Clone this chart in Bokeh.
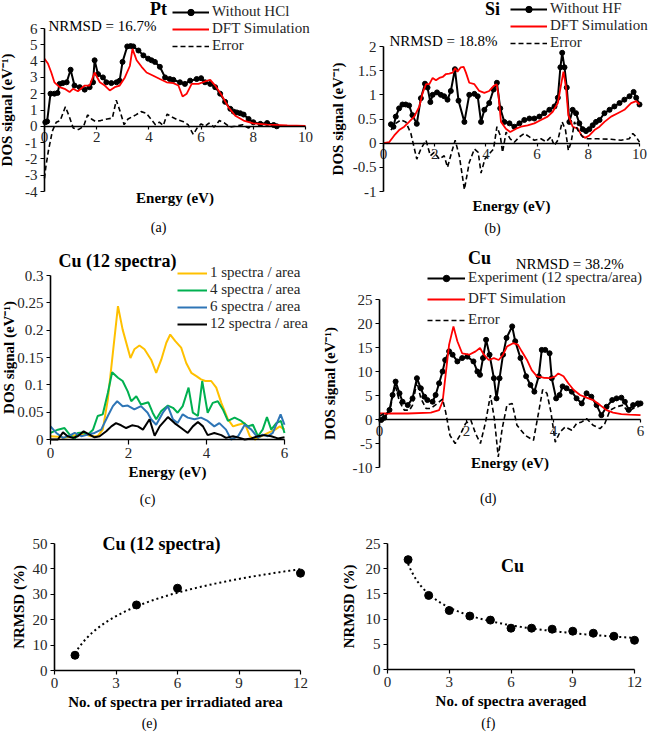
import numpy as np
from bokeh.plotting import figure
from bokeh.models import Range1d, LinearAxis, Label, Legend, LegendItem, FixedTicker
from bokeh.layouts import column, row
from bokeh.embed import file_html
from bokeh.resources import INLINE

FONT = "Liberation Serif"
TICK_COLOR = "#262626"

# ---------------- (a) Pt ----------------
pt_exp_x = [0.03, 0.1, 0.23, 0.38, 0.5, 0.58, 0.7, 0.85, 1.0, 1.15, 1.35, 1.54, 1.73, 1.86, 1.92,
            2.05, 2.24, 2.37, 2.56, 2.76, 2.88, 2.99, 3.17, 3.3, 3.4, 3.6, 3.79, 3.97, 4.1, 4.23,
            4.42, 4.62, 4.8, 4.94, 5.19, 5.38, 5.58, 5.83, 6.0, 6.15, 6.35, 6.54, 6.73, 6.92, 7.12,
            7.25, 7.37, 7.5, 7.63, 7.82, 8.0, 8.27, 8.53, 8.78, 8.9]
pt_exp_y = [0.25, 0.3, 2.0, 2.0, 2.05, 2.6, 2.65, 2.7, 3.47, 2.5, 2.4, 2.25, 2.4, 2.7, 4.05,
            3.2, 3.0, 2.7, 2.65, 2.7, 2.8, 3.95, 4.9, 4.92, 4.9, 4.65, 4.35, 4.15, 4.05, 3.95,
            3.65, 3.0, 2.9, 2.85, 2.7, 2.6, 2.8, 2.9, 2.95, 2.7, 2.6, 2.4, 2.0, 1.5, 1.07,
            0.9, 0.85, 0.8, 0.72, 0.45, 0.25, 0.15, 0.2, 0.08, 0.0]
pt_dft_x = [0, 0.13, 0.26, 0.38, 0.58, 0.77, 0.96, 1.09, 1.28, 1.54, 1.73, 1.92, 2.12, 2.31, 2.5,
            2.69, 2.88, 3.08, 3.27, 3.37, 3.53, 3.72, 3.91, 4.17, 4.42, 4.68, 4.94, 5.13, 5.29,
            5.45, 5.64, 5.9, 6.15, 6.35, 6.54, 6.79, 7.05, 7.31, 7.63, 8.0, 8.53, 9.3, 10]
pt_dft_y = [4.15, 3.85, 3.3, 2.7, 2.4, 2.3, 2.1, 2.3, 2.15, 2.5, 2.5, 3.3, 2.7, 2.5, 2.2,
            2.4, 2.5, 3.0, 3.7, 4.75, 4.05, 3.65, 3.3, 3.1, 2.9, 2.7, 2.65, 2.5, 1.83,
            2.0, 2.6, 2.6, 2.75, 2.85, 2.5, 1.9, 1.17, 0.65, 0.35, 0.18, 0.1, 0.05, 0.02]
pt_err_x = [0, 0.05, 0.15, 0.3, 0.45, 0.6, 0.8, 0.95, 1.1, 1.3, 1.5, 1.65, 1.8, 1.95, 2.15,
            2.4, 2.6, 2.75, 2.9, 3.05, 3.2, 3.5, 3.7, 3.9, 4.1, 4.25, 4.4, 4.55, 4.7, 4.9,
            5.1, 5.3, 5.5, 5.7, 5.85, 6.0, 6.15, 6.3, 6.5, 6.7, 6.9, 7.1, 7.3, 7.6, 7.8, 8.0]
pt_err_y = [-3.2, -2.5, -1.5, -0.3, 0.25, 0.35, 1.2, 0.6, -0.1, -0.2, 0.0, 0.7, 0.45, 0.3, 0.35,
            0.45, 0.5, 1.6, 0.9, 0.1, 0.45, 0.7, 0.9, 0.8, 0.4, 0.1, 0.25, 0.05, 0.75, 0.55,
            0.4, 0.3, 0.1, -0.5, -0.1, 0.15, 0.0, 0.2, -0.05, 0.35, 0.2, -0.05, 0.0, 0.1, -0.1, 0.0]
pt_xticks = [0, 2, 4, 6, 8, 10]
pt_xlabels = ["0", "2", "4", "6", "8", "10"]
pt_yticks = [-4, -3, -2, -1, 0, 1, 2, 3, 4, 5, 6]
pt_ylabels = ["-4", "-3", "-2", "-1", "0", "1", "2", "3", "4", "5", "6"]

# ---------------- (b) Si ----------------
si_exp_x = [0.29, 0.39, 0.48, 0.61, 0.74, 0.87, 1.0, 1.13, 1.3, 1.46, 1.62, 1.72, 1.83, 1.92, 2.09,
            2.24, 2.37, 2.5, 2.63, 2.79, 2.93, 3.16, 3.35, 3.55, 3.68, 3.81, 3.94, 4.13, 4.3, 4.43,
            4.56, 4.72, 4.92, 5.11, 5.31, 5.5, 5.7, 5.89, 6.09, 6.28, 6.48, 6.68, 6.81, 6.91, 6.98,
            7.07, 7.16, 7.26, 7.39, 7.52, 7.65, 7.78, 7.91, 8.04, 8.17, 8.3, 8.44, 8.63, 8.83, 9.02,
            9.22, 9.41, 9.61, 9.77, 9.87, 10.0]
si_exp_y = [0.39, 0.34, 0.55, 0.72, 0.8, 0.8, 0.78, 0.58, 0.4, 0.93, 1.23, 1.15, 0.85, 1.0, 1.05,
            1.0, 0.97, 0.9, 1.08, 1.53, 0.88, 0.44, 1.0, 1.02, 0.97, 0.44, 0.69, 0.83, 1.11, 1.25,
            0.72, 0.44, 0.41, 0.34, 0.41, 0.48, 0.51, 0.51, 0.55, 0.62, 0.69, 0.76, 0.94, 1.57, 1.87,
            1.57, 1.15, 0.44, 0.69, 0.62, 0.41, 0.29, 0.25, 0.29, 0.37, 0.44, 0.48, 0.62, 0.69, 0.76,
            0.83, 0.9, 0.97, 1.06, 0.94, 0.8]
si_dft_x = [0, 0.22, 0.42, 0.61, 0.81, 1.0, 1.2, 1.4, 1.53, 1.66, 1.79, 1.92, 2.05, 2.18, 2.31,
            2.44, 2.57, 2.7, 2.8, 2.89, 3.02, 3.13, 3.22, 3.35, 3.55, 3.74, 3.94, 4.13, 4.3, 4.42,
            4.49, 4.59, 4.78, 4.95, 5.18, 5.37, 5.63, 5.89, 6.15, 6.41, 6.61, 6.81, 6.94, 7.03, 7.13,
            7.22, 7.39, 7.59, 7.74, 7.87, 8.04, 8.24, 8.44, 8.63, 8.89, 9.15, 9.41, 9.67, 9.87, 10.0]
si_dft_y = [0, 0.02, 0.16, 0.27, 0.34, 0.44, 0.55, 0.76, 1.04, 1.22, 1.22, 1.35, 1.3, 1.35, 1.37,
            1.43, 1.44, 1.46, 1.55, 1.48, 1.57, 1.58, 1.46, 1.25, 1.22, 1.08, 1.04, 1.08, 1.18, 1.22,
            1.0, 0.44, 0.3, 0.23, 0.3, 0.34, 0.37, 0.41, 0.48, 0.55, 0.65, 0.83, 1.22, 1.48, 1.15,
            0.58, 0.34, 0.3, 0.16, 0.11, 0.16, 0.27, 0.34, 0.44, 0.55, 0.62, 0.69, 0.83, 0.87, 0.8]
si_err_x = [0.29, 0.48, 0.68, 0.87, 1.07, 1.3, 1.46, 1.66, 1.83, 1.98, 2.18, 2.37, 2.5, 2.66, 2.8,
            2.96, 3.16, 3.35, 3.55, 3.7, 3.81, 3.96, 4.13, 4.3, 4.43, 4.56, 4.65, 4.79, 4.95, 5.11,
            5.31, 5.5, 5.7, 5.89, 6.15, 6.35, 6.54, 6.67, 6.81, 6.98, 7.11, 7.22, 7.33, 7.46, 7.59,
            7.78, 7.98, 8.37, 8.89, 9.28, 9.48, 9.6, 9.74, 9.87, 10.0]
si_err_y = [0.27, 0.41, 0.48, 0.44, 0.2, -0.33, -0.12, 0.06, -0.26, -0.19, -0.33, -0.26, -0.5, -0.19, 0.06,
            -0.26, -0.96, -0.4, -0.12, -0.19, -0.62, -0.33, -0.22, -0.12, 0.34, 0.16, -0.19, 0.23, 0.09, 0.02,
            0.13, 0.2, 0.13, 0.06, 0.09, 0.03, 0.13, -0.05, 0.06, 0.44, 0.27, -0.15, 0.02, 0.44, 0.27,
            0.13, 0.09, 0.09, 0.08, 0.06, 0.08, 0.09, 0.2, 0.13, 0.02]
si_xticks = [0, 2, 4, 6, 8, 10]
si_xlabels = ["0", "2", "4", "6", "8", "10"]
si_yticks = [-1, -0.5, 0, 0.5, 1, 1.5, 2]
si_ylabels = ["-1", "-0.5", "0", "0.5", "1", "1.5", "2"]

# ---------------- (c) Cu, 12 spectra ----------------
cu1_x = [0, 0.19, 0.36, 0.53, 0.7, 0.87, 1.04, 1.21, 1.34, 1.47, 1.6, 1.73, 1.85, 2.05, 2.15, 2.28,
         2.41, 2.58, 2.71, 2.84, 2.97, 3.07, 3.2, 3.35, 3.48, 3.61, 3.74, 3.86, 3.97, 4.12, 4.25,
         4.38, 4.55, 4.68, 4.81, 4.98, 5.11, 5.24, 5.41, 5.58, 5.76, 5.88, 6.0]
cu1_y = [0.006, 0.005, 0.003, 0.006, 0.009, 0.01, 0.006, 0.006, 0.018, 0.073, 0.159, 0.244, 0.201,
         0.149, 0.165, 0.172, 0.165, 0.146, 0.122, 0.146, 0.177, 0.192, 0.18, 0.168, 0.14, 0.122,
         0.116, 0.11, 0.107, 0.107, 0.095, 0.067, 0.037, 0.024, 0.027, 0.03, 0.006, 0.0, 0.006,
         0.012, 0.018, 0.024, 0.018]
cu4_x = [0, 0.19, 0.36, 0.49, 0.62, 0.7, 0.83, 0.96, 1.09, 1.21, 1.34, 1.47, 1.58, 1.73, 1.85, 1.98,
         2.07, 2.2, 2.32, 2.51, 2.62, 2.71, 2.84, 3.01, 3.14, 3.26, 3.39, 3.54, 3.65, 3.78, 3.89,
         4.03, 4.16, 4.29, 4.42, 4.55, 4.72, 4.89, 5.06, 5.19, 5.32, 5.44, 5.55, 5.66, 5.79, 5.91, 6.0]
cu4_y = [0.012, 0.018, 0.021, 0.009, 0.001, 0.012, 0.013, 0.009, 0.018, 0.043, 0.046, 0.085, 0.123,
         0.113, 0.107, 0.088, 0.07, 0.079, 0.064, 0.068, 0.049, 0.037, 0.052, 0.062, 0.058, 0.049,
         0.061, 0.095, 0.049, 0.043, 0.107, 0.049, 0.067, 0.07, 0.055, 0.034, 0.04, 0.034, 0.024,
         0.027, 0.006, 0.018, 0.041, 0.018, 0.03, 0.034, 0.012]
cu6_x = [0, 0.15, 0.32, 0.49, 0.62, 0.79, 0.96, 1.13, 1.3, 1.47, 1.6, 1.71, 1.85, 1.98, 2.15, 2.32,
         2.49, 2.58, 2.71, 2.88, 3.01, 3.14, 3.26, 3.39, 3.52, 3.69, 3.86, 4.03, 4.2, 4.33, 4.5,
         4.63, 4.81, 4.98, 5.15, 5.32, 5.44, 5.57, 5.7, 5.83, 5.9, 6.0]
cu6_y = [0.024, 0.012, 0.003, 0.007, 0.012, 0.006, 0.009, 0.012, 0.018, 0.043, 0.061, 0.07, 0.061,
         0.062, 0.055, 0.061, 0.049, 0.037, 0.027, 0.049, 0.061, 0.037, 0.03, 0.046, 0.04, 0.037,
         0.04, 0.034, 0.024, 0.03, 0.018, 0.0, 0.006, 0.027, 0.018, 0.003, 0.009, 0.006, 0.012,
         0.034, 0.046, 0.027]
cu12_x = [0, 0.19, 0.32, 0.44, 0.57, 0.7, 0.85, 1.0, 1.13, 1.26, 1.43, 1.56, 1.68, 1.81, 1.94, 2.09,
          2.24, 2.37, 2.54, 2.67, 2.8, 3.01, 3.18, 3.35, 3.52, 3.65, 3.78, 3.91, 4.03, 4.2, 4.38,
          4.5, 4.68, 4.85, 4.98, 5.15, 5.32, 5.49, 5.66, 5.83, 6.0]
cu12_y = [0.0, 0.0, 0.013, 0.006, 0.003, 0.006, 0.015, 0.009, 0.004, 0.006, 0.015, 0.024, 0.03,
          0.026, 0.021, 0.026, 0.024, 0.018, 0.037, 0.007, 0.024, 0.041, 0.03, 0.021, 0.012, 0.024,
          0.032, 0.024, 0.008, 0.012, 0.008, 0.003, 0.006, 0.003, 0.0, 0.002, 0.006, 0.008, 0.006,
          0.002, 0.004]
cuc_xticks = [0, 2, 4, 6]
cuc_xlabels = ["0", "2", "4", "6"]
cuc_yticks = [0, 0.05, 0.1, 0.15, 0.2, 0.25, 0.3]
cuc_ylabels = ["0", "0.05", "0.1", "0.15", "0.2", "0.25", "0.3"]

# ---------------- (d) Cu experiment vs DFT ----------------
cud_exp_x = [0.04, 0.11, 0.23, 0.3, 0.37, 0.46, 0.53, 0.65, 0.76, 0.86, 0.95, 1.03, 1.1, 1.22, 1.29,
             1.37, 1.45, 1.51, 1.6, 1.68, 1.79, 1.9, 2.02, 2.16, 2.25, 2.31, 2.38, 2.45, 2.53, 2.63,
             2.69, 2.76, 2.84, 2.92, 3.05, 3.12, 3.24, 3.37, 3.47, 3.56, 3.66, 3.73, 3.81, 3.91, 3.96,
             4.06, 4.14, 4.21, 4.3, 4.42, 4.53, 4.65, 4.76, 4.87, 4.99, 5.1, 5.22, 5.35, 5.45, 5.56,
             5.64, 5.73, 5.83, 5.94, 6.0]
cud_exp_y = [-0.1, 0.35, 2.0, 5.1, 7.9, 5.45, 3.7, 3.0, 4.4, 8.6, 6.5, 4.75, 4.05, 3.7, 5.1,
             7.55, 10.0, 12.4, 14.2, 13.5, 12.1, 12.8, 13.1, 12.1, 10.0, 9.3, 12.8, 16.6, 13.5, 8.6,
             4.4, 8.6, 13.5, 17.0, 19.4, 16.3, 12.8, 9.0, 7.2, 5.8, 9.0, 14.5, 14.5, 13.8, 8.6,
             4.4, 5.1, 6.9, 6.5, 5.8, 4.4, 3.35, 5.45, 4.75, 3.0, 0.9, 2.65, 4.05, 4.4, 4.55,
             3.7, 2.0, 3.0, 3.35, 3.35]
cud_dft_x = [0, 0.65, 1.18, 1.37, 1.45, 1.52, 1.6, 1.7, 1.79, 1.9, 2.06, 2.21, 2.31, 2.4, 2.51, 2.63,
             2.74, 2.84, 2.93, 3.07, 3.18, 3.27, 3.39, 3.5, 3.62, 3.77, 3.92, 4.04, 4.11, 4.23, 4.34,
             4.46, 4.61, 4.76, 4.91, 5.07, 5.22, 5.37, 5.56, 5.75, 6.0]
cud_dft_y = [1.25, 1.25, 1.45, 1.95, 3.7, 9.3, 15.6, 19.4, 16.3, 13.8, 13.5, 14.2, 14.9, 13.5, 12.4,
             12.8, 12.4, 13.5, 15.2, 15.9, 15.6, 14.2, 12.4, 10.3, 9.0, 8.7, 8.6, 9.0, 9.6, 9.0, 7.55,
             6.2, 5.1, 4.55, 4.05, 3.0, 1.95, 1.45, 1.1, 1.0, 0.9]
cud_err_x = [0, 0.11, 0.23, 0.36, 0.46, 0.57, 0.69, 0.76, 0.86, 0.95, 1.07, 1.18, 1.33, 1.45, 1.52,
             1.62, 1.74, 1.85, 1.98, 2.1, 2.21, 2.32, 2.44, 2.55, 2.64, 2.73, 2.82, 2.93, 3.05, 3.16,
             3.35, 3.54, 3.66, 3.75, 3.85, 3.94, 4.04, 4.15, 4.27, 4.42, 4.53, 4.65, 4.76, 4.91, 5.07,
             5.18, 5.3, 5.45, 5.6, 5.71, 5.83, 5.94, 6.0]
cud_err_y = [0.7, 1.25, 1.6, 7.2, 3.7, 1.95, 1.95, 3.0, 7.9, 4.4, 2.3, 2.3, 3.35, 4.25, 1.6,
             -3.3, -5.0, -3.3, -0.8, -0.15, -2.95, -5.0, -0.5, 5.1, 0.2, -7.8, -1.9, 3.0, 3.35, -1.2,
             -3.3, -4.35, 1.6, 6.2, 5.45, 1.6, -4.7, -2.6, -1.55, -2.25, -0.85, -0.5, 0.2, -1.2, -1.9,
             -0.85, 1.95, 2.65, 3.0, 1.6, 2.3, 2.65, 3.0]
cud_xticks = [0, 2, 4, 6]
cud_xlabels = ["0", "2", "4", "6"]
cud_yticks = [-10, -5, 0, 5, 10, 15, 20, 25]
cud_ylabels = ["-10", "-5", "0", "5", "10", "15", "20", "25"]

# ---------------- (e) NRMSD vs spectra per area ----------------
e_x = [1, 4, 6, 12]
e_y = [6.0, 25.8, 32.4, 38.3]
e_xticks = [0, 3, 6, 9, 12]
e_xlabels = ["0", "3", "6", "9", "12"]
e_yticks = [0, 10, 20, 30, 40, 50]
e_ylabels = ["0", "10", "20", "30", "40", "50"]

# ---------------- (f) NRMSD vs spectra averaged ----------------
f_x = [1, 2, 3, 4, 5, 6, 7, 8, 9, 10, 11, 12]
f_y = [21.8, 14.7, 11.7, 10.6, 9.8, 8.2, 8.2, 8.0, 7.6, 7.2, 6.6, 5.8]
f_xticks = [0, 3, 6, 9, 12]
f_xlabels = ["0", "3", "6", "9", "12"]
f_yticks = [0, 5, 10, 15, 20, 25]
f_ylabels = ["0", "5", "10", "15", "20", "25"]

YLAB_DOS = "DOS signal (eV\u207b\u00b9)"
W_LEFT = 322
W_RIGHT = 328
TITLE_SIZE = "18px"


def make_fig(w, h, xd, yd, fl, fr, ft, fb):
    """Whole canvas is the frame; the data box (xd, yd) maps to pixels fl..fr, ft..fb."""
    sx = (fr - fl) / (xd[1] - xd[0])
    sy = (fb - ft) / (yd[1] - yd[0])
    xr = Range1d(xd[0] - fl / sx, xd[1] + (w - fr) / sx)
    yr = Range1d(yd[0] - (h - fb) / sy, yd[1] + ft / sy)
    p = figure(width=w, height=h, x_range=xr, y_range=yr,
               output_backend="svg", toolbar_location=None,
               x_axis_type=None, y_axis_type=None,
               min_border_left=0, min_border_right=0,
               min_border_top=0, min_border_bottom=0)
    p.title.visible = False
    p.outline_line_color = None
    p.background_fill_color = "white"
    p.border_fill_color = "white"
    return p


def add_axis(p, side, ticks, labels, text, label_standoff, fixed, bounds, tick_out=4):
    ax = LinearAxis(ticker=FixedTicker(ticks=ticks),
                    major_label_overrides={t: l for t, l in zip(ticks, labels)},
                    axis_label=text, fixed_location=fixed, bounds=bounds)
    ax.axis_line_color = "black"
    ax.axis_line_width = 1.6
    ax.major_tick_line_color = "black"
    ax.major_tick_line_width = 1.2
    ax.major_tick_out = tick_out
    ax.major_tick_in = 0
    ax.minor_tick_line_color = None
    ax.major_label_standoff = 3
    ax.major_label_text_font = FONT
    ax.major_label_text_font_size = "15px"
    ax.major_label_text_color = TICK_COLOR
    ax.axis_label_text_font = FONT
    ax.axis_label_text_font_style = "bold"
    ax.axis_label_text_font_size = "15px"
    ax.axis_label_text_color = "black"
    ax.axis_label_standoff = label_standoff
    p.add_layout(ax, side)
    return ax


def add_text(p, x, y, text, size="15px", bold=False, align="left"):
    p.add_layout(Label(x=x, y=y, text=text, text_font=FONT, text_font_size=size,
                       text_font_style="bold" if bold else "normal",
                       text_color="black", text_align=align, text_baseline="middle"))


def add_legend(p, items, loc, spacing=0, glyph_width=37):
    lg = Legend(items=items, location=loc, orientation="vertical",
                background_fill_alpha=0, border_line_color=None,
                padding=0, margin=0, spacing=spacing,
                glyph_width=glyph_width, glyph_height=16, label_height=16,
                label_standoff=3, label_text_font=FONT, label_text_font_size="15px",
                label_text_color="#262626")
    p.add_layout(lg)


# ---------- panel (a)
pa = make_fig(W_LEFT, 240, (0, 10), (-4, 6), 44, 305, 28, 191)
add_axis(pa, "left", pt_yticks, pt_ylabels, YLAB_DOS, 7, 0, (-4, 6))
add_axis(pa, "below", pt_xticks, pt_xlabels, "Energy (eV)", 44, 0, (0, 10), tick_out=3)
a1 = pa.line(pt_exp_x, pt_exp_y, line_color="black", line_width=2)
a1s = pa.scatter(pt_exp_x, pt_exp_y, size=5, color="black")
a2 = pa.line(pt_dft_x, pt_dft_y, line_color="#ff0000", line_width=1.8)
a3 = pa.line(pt_err_x, pt_err_y, line_color="black", line_width=1.6, line_dash="5 3")
add_legend(pa, [LegendItem(label="Without HCl", renderers=[a1, a1s]),
                LegendItem(label="DFT Simulation", renderers=[a2]),
                LegendItem(label="Error", renderers=[a3])], (172, 186))
add_text(pa, 4.37, 7.2, "Pt", size=TITLE_SIZE, bold=True, align="center")
add_text(pa, 0.15, 6.18, "NRMSD = 16.7%")
add_text(pa, 4.37, -6.2, "(a)", size="14px", align="center")

# ---------- panel (b)
pb = make_fig(W_RIGHT, 240, (0, 10), (-1, 2), 61, 317, 46, 191)
add_axis(pb, "left", si_yticks, si_ylabels, YLAB_DOS, 4, 0, (-1, 2))
add_axis(pb, "below", si_xticks, si_xlabels, "Energy (eV)", 35, 0, (0, 10), tick_out=3)
b1 = pb.line(si_exp_x, si_exp_y, line_color="black", line_width=2)
b1s = pb.scatter(si_exp_x, si_exp_y, size=5, color="black")
b2 = pb.line(si_dft_x, si_dft_y, line_color="#ff0000", line_width=1.8)
b3 = pb.line(si_err_x, si_err_y, line_color="black", line_width=1.6, line_dash="5 3")
add_legend(pb, [LegendItem(label="Without HF", renderers=[b1, b1s]),
                LegendItem(label="DFT Simulation", renderers=[b2]),
                LegendItem(label="Error", renderers=[b3])], (188, 189))
add_text(pb, 4.26, 2.77, "Si", size=TITLE_SIZE, bold=True, align="center")
add_text(pb, 0.23, 2.12, "NRMSD = 18.8%")
add_text(pb, 4.26, -1.77, "(b)", size="14px", align="center")

# ---------- panel (c)
pc = make_fig(W_LEFT, 272, (0, 6), (0, 0.3), 50, 284, 35, 199)
add_axis(pc, "left", cuc_yticks, cuc_ylabels, YLAB_DOS, -3, 0, (0, 0.3))
add_axis(pc, "below", cuc_xticks, cuc_xlabels, "Energy (eV)", 3, 0, (0, 6), tick_out=5)
c1 = pc.line(cu1_x, cu1_y, line_color="#ffc000", line_width=2)
c2 = pc.line(cu4_x, cu4_y, line_color="#00b050", line_width=2)
c3 = pc.line(cu6_x, cu6_y, line_color="#2e75b6", line_width=2)
c4 = pc.line(cu12_x, cu12_y, line_color="black", line_width=2)
add_legend(pc, [LegendItem(label="1 spectra / area", renderers=[c1]),
                LegendItem(label="4 spectra / area", renderers=[c2]),
                LegendItem(label="6 spectra / area", renderers=[c3]),
                LegendItem(label="12 spectra / area", renderers=[c4])], (177, 180), glyph_width=30)
add_text(pc, 1.72, 0.3274, "Cu (12 spectra)", size=TITLE_SIZE, bold=True, align="center")
add_text(pc, 2.49, -0.11, "(c)", size="14px", align="center")

# ---------- panel (d)
pd_ = make_fig(W_RIGHT, 272, (0, 6), (-10, 25), 57, 318, 59, 227)
add_axis(pd_, "left", cud_yticks, cud_ylabels, YLAB_DOS, 12, 0, (-10, 25))
add_axis(pd_, "below", cud_xticks, cud_xlabels, "Energy (eV)", 16, 0, (0, 6), tick_out=3)
d1 = pd_.line(cud_exp_x, cud_exp_y, line_color="black", line_width=2)
d1s = pd_.scatter(cud_exp_x, cud_exp_y, size=5, color="black")
d2 = pd_.line(cud_dft_x, cud_dft_y, line_color="#ff0000", line_width=1.8)
d3 = pd_.line(cud_err_x, cud_err_y, line_color="black", line_width=1.6, line_dash="5 3")
add_legend(pd_, [LegendItem(label="Experiment (12 spectra/area)", renderers=[d1, d1s]),
                 LegendItem(label="DFT Simulation", renderers=[d2]),
                 LegendItem(label="Error", renderers=[d3])], (105, 184), spacing=4, glyph_width=38)
add_text(pd_, 2.3, 33.75, "Cu", size=TITLE_SIZE, bold=True, align="center")
add_text(pd_, 3.13, 32.5, "NRMSD = 38.2%")
add_text(pd_, 2.5, -16.5, "(d)", size="14px", align="center")

# ---------- panel (e)
pe = make_fig(W_LEFT, 221, (0, 12), (0, 50), 54, 300, 31, 158)
add_axis(pe, "left", e_yticks, e_ylabels, "NRMSD (%)", 3, 0, (0, 50))
add_axis(pe, "below", e_xticks, e_xlabels, "No. of spectra per irradiated  area", 3, 0, (0, 12))
ex = np.array(e_x, dtype=float)
ea, eb = np.polyfit(np.log(ex), np.array(e_y), 1)
etx = np.linspace(1, 12, 120)
pe.line(etx, ea * np.log(etx) + eb, line_color="black", line_width=2, line_dash="2 3")
pe.scatter(e_x, e_y, size=8, color="black")
add_text(pe, 5.22, 50, "Cu (12 spectra)", size=TITLE_SIZE, bold=True, align="center")
add_text(pe, 4.63, -20.9, "(e)", size="14px", align="center")

# ---------- panel (f)
pf = make_fig(W_RIGHT, 221, (0, 12), (0, 25), 65, 312, 31, 157)
add_axis(pf, "left", f_yticks, f_ylabels, "NRMSD (%)", 6, 0, (0, 25))
add_axis(pf, "below", f_xticks, f_xlabels, "No. of spectra averaged", 3, 0, (0, 12))
fx = np.array(f_x, dtype=float)
fb, fa = np.polyfit(np.log(fx), np.log(np.array(f_y)), 1)
ftx = np.linspace(1, 12, 120)
pf.line(ftx, np.exp(fa) * ftx ** fb, line_color="black", line_width=2, line_dash="2 3")
pf.scatter(f_x, f_y, size=8, color="black")
add_text(pf, 6.07, 20.6, "Cu", size=TITLE_SIZE, bold=True, align="center")
add_text(pf, 4.9, -10.7, "(f)", size="14px", align="center")

layout = column(row(pa, pb), row(pc, pd_), row(pe, pf))
open("out.html", "w").write(file_html(layout, INLINE))
